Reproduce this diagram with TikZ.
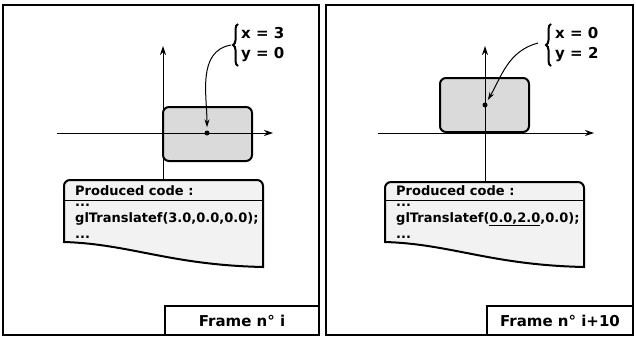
\documentclass[tikz,border=0pt]{standalone}
\usepackage{fontspec}
\setmainfont{DejaVu Sans}
\usetikzlibrary{arrows.meta, positioning, calc, decorations.pathreplacing}
\definecolor{objgray}{HTML}{DADADA}
\definecolor{codegray}{HTML}{F2F2F2}

\begin{document}
\begin{tikzpicture}[x=1pt, y=-1pt,
    frame/.style={line width=2.6pt},
    axis/.style={line width=1pt, -{Stealth[length=9pt, width=6pt]}},
    obj/.style={draw, line width=2pt, fill=objgray, rounded corners=6pt},
    center/.style={circle, fill, inner sep=0pt, minimum size=5pt},
    codebox/.style={draw, line width=2pt, fill=codegray},
    codeline/.style={anchor=base west, inner sep=0pt, font=\fontsize{13}{15}\selectfont\bfseries},
    coords/.style={anchor=west, inner sep=0pt, align=left, font=\fontsize{15}{20}\selectfont\bfseries},
    bracket/.style={decorate, decoration={brace, amplitude=5pt}, line width=2pt},
    pointer/.style={line width=1pt, -{Stealth[length=8pt, width=5pt]}, shorten >=3pt},
    framelabel/.style={inner sep=0pt, font=\fontsize{15}{18}\selectfont\bfseries}]
  \useasboundingbox (0,0) rectangle (636,337);

  % Frame i
  \draw[frame] (3,5) rectangle (319,335);
  \draw[codebox] (64,242) [rounded corners=6pt] -- (64,180) -- (263,180) [sharp corners] -- (263,267)
    .. controls (170,265) and (130,244) .. (64,242) -- cycle;
  \draw[line width=1pt] (64,200) -- (263,200);
  \node[obj, minimum width=89pt, minimum height=54pt] (obj1) at (207.5,134) {};
  \node[center] (dot1) at (207,133) {};
  \coordinate (xo1) at (57,133);
  \coordinate (xe1) at (273,133);
  \coordinate (yo1) at (163,180);
  \coordinate (ye1) at (163,46);
  \draw[axis] (xo1) -- (xe1);
  \draw[axis] (yo1) -- (ye1);
  \node[codeline] (head1) at (75,195) {Produced code :};
  \node[codeline] (dots1a) at (75,206) {...};
  \node[codeline] (call1) at (75,222) {glTranslatef(3.0,0.0,0.0);};
  \node[codeline] (dots1b) at (75,238) {...};
  \node[coords] (xy1) at (241,45) {x = 3\\y = 0};
  \draw[bracket] (238,66) -- (238,24);
  \coordinate (tip1) at (231,45);
  \draw[pointer] (tip1) to[out=190, in=90] (dot1);
  \draw[frame] (165,335) |- (319,306);
  \node[framelabel] (lab1) at (242,321) {Frame n° i};

  % Frame i+10
  \draw[frame] (326,5) rectangle (633,335);
  \draw[codebox] (385,242) [rounded corners=6pt] -- (385,182) -- (584,182) [sharp corners] -- (584,267)
    .. controls (491,265) and (451,244) .. (385,242) -- cycle;
  \draw[line width=1pt] (385,200) -- (584,200);
  \node[obj, minimum width=89pt, minimum height=54pt] (obj2) at (484.5,105) {};
  \node[center] (dot2) at (485,105) {};
  \coordinate (xo2) at (378,133);
  \coordinate (xe2) at (594,133);
  \coordinate (yo2) at (485,182);
  \coordinate (ye2) at (485,46);
  \draw[axis] (xo2) -- (xe2);
  \draw[axis] (yo2) -- (ye2);
  \node[codeline] (head2) at (396,195) {Produced code :};
  \node[codeline] (dots2a) at (396,206) {...};
  \node[codeline] (call2) at (396,222) {glTranslatef(\underline{0.0,2.0},0.0);};
  \node[codeline] (dots2b) at (396,238) {...};
  \node[coords] (xy2) at (555,45) {x = 0\\y = 2};
  \draw[bracket] (551,66) -- (551,24);
  \coordinate (tip2) at (538,43);
  \draw[pointer] (tip2) to[out=195, in=60] (dot2);
  \draw[frame] (487,335) |- (633,306);
  \node[framelabel] (lab2) at (560,321) {Frame n° i+10};
\end{tikzpicture}
\end{document}
